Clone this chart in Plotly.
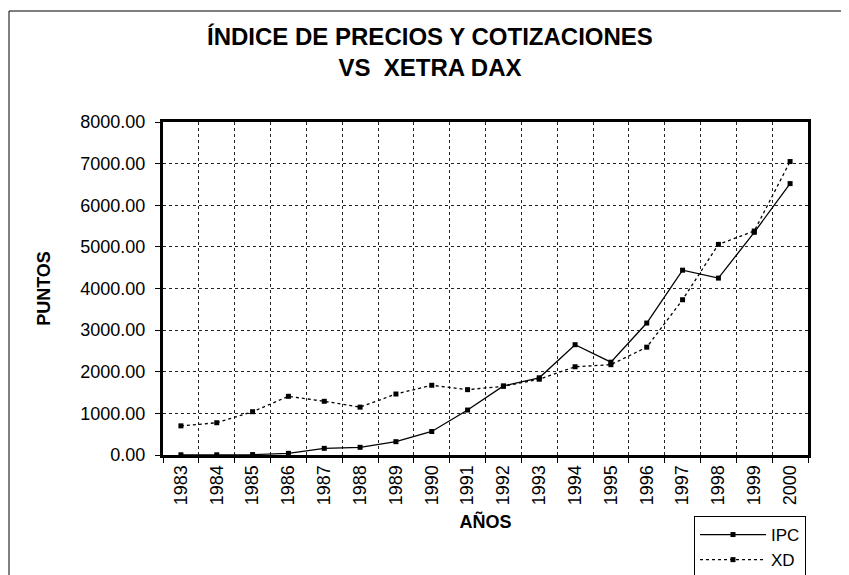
import plotly.graph_objects as go

years = list(range(1983, 2001))
ipc = [5, 5, 10, 40, 160, 185, 320, 565, 1080, 1660, 1855, 2650, 2230, 3170, 4440, 4250, 5350, 6520]
xd = [700, 775, 1040, 1410, 1290, 1150, 1465, 1675, 1570, 1650, 1820, 2120, 2170, 2590, 3730, 5060, 5380, 7050]
y_ticks = [0, 1000, 2000, 3000, 4000, 5000, 6000, 7000, 8000]

FONT = "Arial, Liberation Sans, sans-serif"

# page body adds an 8px offset, so margins are shifted by that amount
fig = go.Figure()

fig.add_trace(go.Scatter(
    x=years, y=ipc, name="IPC", mode="lines+markers",
    line=dict(color="black", width=1.3),
    marker=dict(symbol="square", size=5, color="black"),
))

fig.add_trace(go.Scatter(
    x=years, y=xd, name="XD", mode="lines+markers",
    line=dict(color="black", width=1.3, dash="dot"),
    marker=dict(symbol="square", size=5, color="black"),
))

plot_h = 333
plot_w = 645

fig.update_layout(
    width=849, height=575,
    paper_bgcolor="white", plot_bgcolor="white",
    margin=dict(l=155, r=49, t=114, b=128, autoexpand=False),
    font=dict(family=FONT, color="black", size=18),
    title=dict(
        text="<b>ÍNDICE DE PRECIOS Y COTIZACIONES<br>VS  XETRA DAX</b>",
        x=0.497, xanchor="center", y=1 - 37 / 575, yanchor="top",
        font=dict(size=24, family=FONT),
    ),
    showlegend=True,
    legend=dict(
        x=(694 - 163) / plot_w, xanchor="left",
        y=(455 - 516) / plot_h, yanchor="top",
        bordercolor="black", borderwidth=1, bgcolor="white",
        font=dict(size=17, family=FONT),
        itemwidth=66,
        tracegroupgap=0,
    ),
    shapes=[
        dict(type="line", xref="paper", yref="paper",
             x0=(9 - 163) / plot_w, x1=(9 - 163) / plot_w,
             y0=(455 - 600) / plot_h, y1=(455 - 11) / plot_h,
             line=dict(color="black", width=1)),
        dict(type="line", xref="paper", yref="paper",
             x0=(9 - 163) / plot_w, x1=(860 - 163) / plot_w,
             y0=(455 - 11) / plot_h, y1=(455 - 11) / plot_h,
             line=dict(color="black", width=1)),
    ],
)

fig.update_xaxes(
    range=[1982.5, 2000.5],
    tickmode="array", tickvals=years, ticktext=[str(y) for y in years],
    tickangle=-90, showgrid=False, ticks="",
    tickfont=dict(size=18),
    minor=dict(tick0=1982.5, dtick=1, showgrid=True, griddash="dot",
               gridcolor="#222", gridwidth=1, ticks="outside", ticklen=5,
               tickcolor="black"),
    showline=True, linecolor="black", linewidth=3, mirror=True,
    zeroline=False, automargin=False,
    title=dict(text="<b>AÑOS</b>", font=dict(size=18), standoff=12),
)

fig.update_yaxes(
    range=[0, 8000],
    tickmode="array", tickvals=y_ticks, ticktext=[f"{v:.2f}" for v in y_ticks],
    tickfont=dict(size=18),
    showgrid=True, griddash="dot", gridcolor="#222", gridwidth=1,
    ticks="outside", ticklen=5, tickcolor="black",
    ticklabelstandoff=6,
    showline=True, linecolor="black", linewidth=3, mirror=True,
    zeroline=False, automargin=False,
    title=dict(text="<b>PUNTOS</b>", font=dict(size=18), standoff=26),
)

fig.write_html("out.html")
